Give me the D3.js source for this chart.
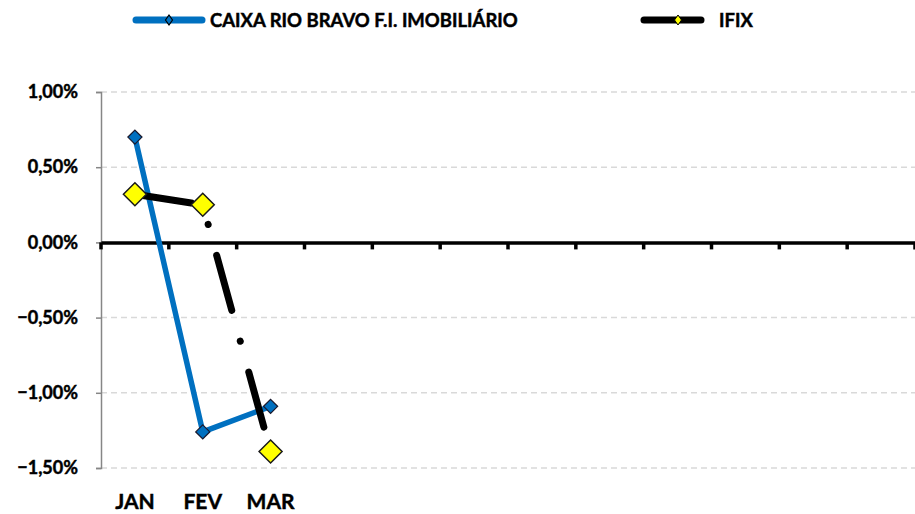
<!DOCTYPE html>
<html>
<head>
<meta charset="utf-8">
<script src="https://cdn.jsdelivr.net/npm/d3@7"></script>
<style>
  html, body { margin: 0; padding: 0; background: #fff; }
  svg { display: block; font-family: Lato, "Open Sans", sans-serif; font-weight: bold; }
  svg text { stroke: #000; stroke-width: 0.45px; }
</style>
</head>
<body>
<svg id="chart" width="915" height="514"></svg>
<script>
const months = ["JAN", "FEV", "MAR", "ABR", "MAI", "JUN", "JUL", "AGO", "SET", "OUT", "NOV", "DEZ"];
const monthLabels = ["JAN", "FEV", "MAR", "", "", "", "", "", "", "", "", ""];
const caixaValues = [0.0070, -0.0126, -0.0109];
const ifixValues = [0.0032, 0.0025, -0.0139];
const yTicks = [0.01, 0.005, 0, -0.005, -0.01, -0.015];
const seriesNames = ["CAIXA RIO BRAVO F.I. IMOBILIÁRIO", "IFIX"];

const svg = d3.select("#chart");
const x = d3.scaleBand().domain(months).range([101, 915]).padding(0);
const y = d3.scaleLinear().domain([-0.015, 0.01]).range([468, 92]);
const fmt = v => d3.format(".2f")(v * 100).replace(".", ",") + "%";

// gridlines
svg.append("g").selectAll("line").data(yTicks.filter(d => d !== 0)).join("line")
  .attr("x1", 101).attr("x2", 915)
  .attr("y1", d => y(d)).attr("y2", d => y(d))
  .attr("stroke", "#d9d9d9").attr("stroke-width", 1.5).attr("stroke-dasharray", "6,4");

// y axis
const yAxis = d3.axisLeft(y).tickValues(yTicks).tickSize(5).tickPadding(18).tickFormat(fmt);
const gy = svg.append("g").attr("transform", "translate(101,0)").call(yAxis);
gy.select(".domain").attr("stroke", "#868686").attr("stroke-width", 1.5);
gy.selectAll(".tick line").attr("stroke", "#868686").attr("stroke-width", 1.5);
gy.selectAll(".tick text").attr("font-size", 18).attr("font-weight", "bold").attr("fill", "#000")
  .attr("font-family", "Lato, sans-serif");

// x axis at zero
const xAxis = d3.axisBottom(x).tickSize(0).tickFormat("");
const gx = svg.append("g").attr("transform", `translate(0,${y(0)})`).call(xAxis);
gx.select(".domain").attr("stroke", "#000").attr("stroke-width", 3.5);
const bounds = months.map(m => x(m)).concat([x(months[months.length - 1]) + x.bandwidth()]);
svg.append("g").selectAll("line").data(bounds).join("line")
  .attr("x1", d => d).attr("x2", d => d)
  .attr("y1", y(0)).attr("y2", y(0) + 7)
  .attr("stroke", "#000").attr("stroke-width", 3.5);

// x labels at bottom
svg.append("g").selectAll("text").data(months).join("text")
  .attr("x", d => x(d) + x.bandwidth() / 2)
  .attr("y", 509)
  .attr("text-anchor", "middle")
  .attr("font-size", 21)
  .attr("fill", "#000")
  .text((d, i) => monthLabels[i]);

const cx = i => x(months[i]) + x.bandwidth() / 2;
const line = d3.line().x((d, i) => cx(i)).y(d => y(d));

// CAIXA series
svg.append("path").datum(caixaValues).attr("d", line)
  .attr("fill", "none").attr("stroke", "#0070c0").attr("stroke-width", 5.5)
  .attr("stroke-linejoin", "round");
const diamond = (r) => `M0,${-r}L${r},0L0,${r}L${-r},0Z`;
svg.append("g").selectAll("path").data(caixaValues).join("path")
  .attr("transform", (d, i) => `translate(${cx(i)},${y(d)})`)
  .attr("d", diamond(7))
  .attr("fill", "#0070c0").attr("stroke", "#1a1a2e").attr("stroke-width", 1.3);

// IFIX series
svg.append("path").datum(ifixValues).attr("d", line)
  .attr("fill", "none").attr("stroke", "#000").attr("stroke-width", 7)
  .attr("stroke-linecap", "round").attr("stroke-linejoin", "round")
  .attr("stroke-dasharray", "57,32,0.1,32");
svg.append("g").selectAll("path").data(ifixValues).join("path")
  .attr("transform", (d, i) => `translate(${cx(i)},${y(d)})`)
  .attr("d", diamond(11.5))
  .attr("fill", "#ffff00").attr("stroke", "#1a1a1a").attr("stroke-width", 1.5);

// legend
const leg = svg.append("g");
leg.append("line").attr("x1", 136).attr("x2", 202).attr("y1", 20).attr("y2", 20)
  .attr("stroke", "#0070c0").attr("stroke-width", 7).attr("stroke-linecap", "round");
leg.append("path").attr("transform", "translate(169,20)").attr("d", "M0,-5L3.5,0L0,5L-3.5,0Z")
  .attr("fill", "#0070c0").attr("stroke", "#000").attr("stroke-width", 1.2);
leg.append("text").attr("x", 210).attr("y", 26.5).attr("font-size", 18.5).attr("fill", "#000").text(seriesNames[0]);
leg.append("line").attr("x1", 644).attr("x2", 701).attr("y1", 20).attr("y2", 20)
  .attr("stroke", "#000").attr("stroke-width", 7).attr("stroke-linecap", "round");
leg.append("path").attr("transform", "translate(678,20)").attr("d", "M0,-5L3.5,0L0,5L-3.5,0Z")
  .attr("fill", "#ffff00").attr("stroke", "#000").attr("stroke-width", 1);
leg.append("text").attr("x", 719).attr("y", 26.5).attr("font-size", 18.5).attr("fill", "#000").text(seriesNames[1]);
</script>
</body>
</html>
